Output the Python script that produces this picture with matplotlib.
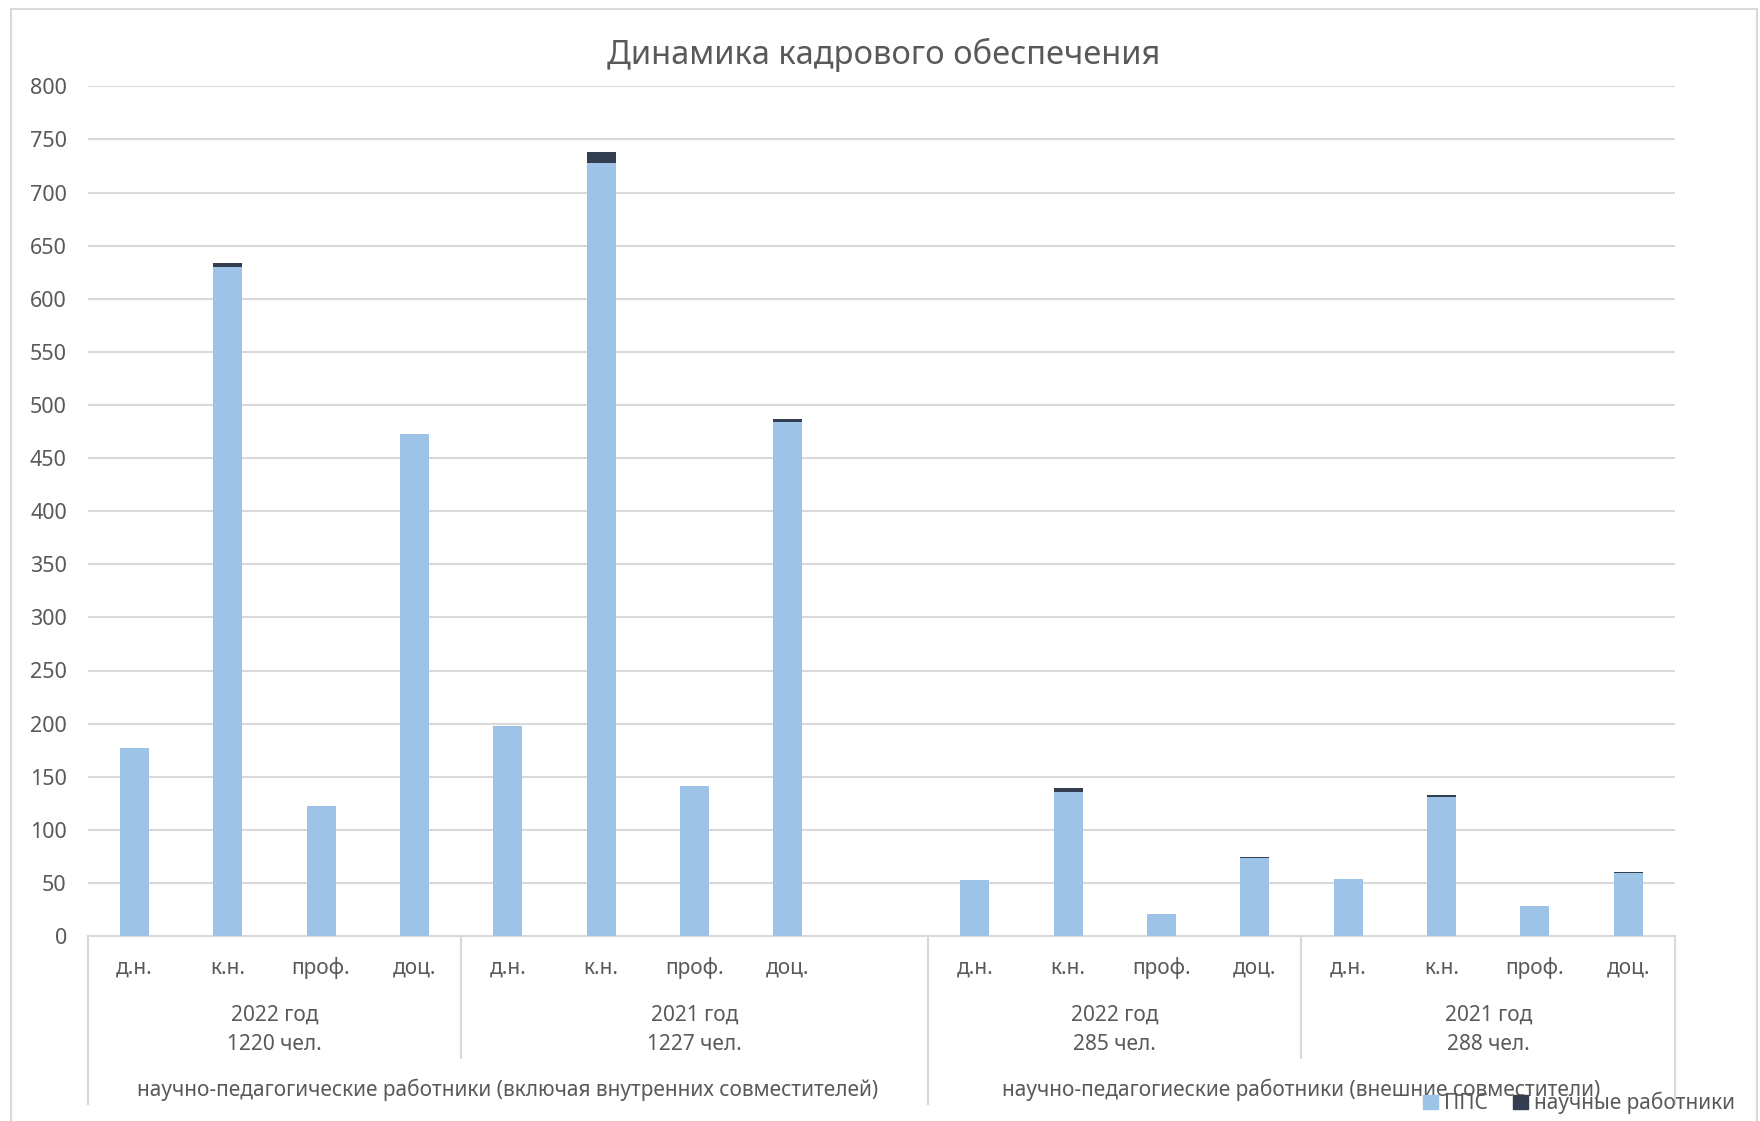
import matplotlib

matplotlib.use("Agg")
import matplotlib.pyplot as plt
from matplotlib.patches import Rectangle, Patch
from matplotlib.lines import Line2D
from matplotlib.transforms import blended_transform_factory

plt.rcParams["font.family"] = ["Noto Sans", "DejaVu Sans"]

TITLE = "Динамика кадрового обеспечения"
DEGREES = ["д.н.", "к.н.", "проф.", "доц."]
YEARS = ["2022 год\n1220 чел.", "2021 год\n1227 чел.", "2022 год\n285 чел.", "2021 год\n288 чел."]
OUTER = ["научно-педагогические работники (включая внутренних совместителей)",
         "научно-педагогиеские работники (внешние совместители)"]
SERIES = ["ППС", "научные работники"]

# per block: д.н., к.н., проф., доц.
pps = [177, 630, 122, 473,
       198, 728, 141, 484,
       53, 136, 21, 73,
       54, 131, 28, 59]
sci = [0, 4, 0, 0,
       0, 10, 0, 3,
       0, 3, 0, 1,
       0, 2, 0, 1]

LIGHT, DARK = "#9DC3E6", "#333F50"
TXT, GRID = "#595959", "#D9D9D9"
W, H = 1760, 1121

# slot positions: 4 + 4 + one empty slot + 4 + 4
pos = [0, 1, 2, 3, 4, 5, 6, 7, 9, 10, 11, 12, 13, 14, 15, 16]

fig = plt.figure(figsize=(W / 100, H / 100), dpi=100)
ax = fig.add_axes([87.6 / W, 1 - 936 / H, (1675 - 87.6) / W, (936 - 86.4) / H])

bw = 0.31
ax.bar(pos, pps, bw, color=LIGHT, zorder=3)
ax.bar(pos, sci, bw, bottom=pps, color=DARK, zorder=3)

ax.set_xlim(-0.5, 16.5)
ax.set_ylim(0, 800)
ax.set_yticks(range(0, 801, 50))
ax.tick_params(axis="y", length=0, labelsize=15.5, labelcolor=TXT, pad=15)
ax.set_xticks([])
ax.grid(axis="y", color=GRID, linewidth=1.5, zorder=0)
for s in ["top", "right", "left"]:
    ax.spines[s].set_visible(False)
ax.spines["bottom"].set_color(GRID)
ax.spines["bottom"].set_linewidth(1.5)

fy = lambda py: 1 - py / H
tr = blended_transform_factory(ax.transData, fig.transFigure)

for i, p in enumerate(pos):
    ax.text(p, fy(968), DEGREES[i % 4], transform=tr, ha="center", va="center",
            fontsize=15, color=TXT)

year_centers = [1.5, 6.0, 10.5, 14.5]
for xc, lab in zip(year_centers, YEARS):
    ax.text(xc, fy(1030), lab, transform=tr, ha="center", va="center",
            fontsize=15, color=TXT, linespacing=1.55)

ax.text(4.0, fy(1090), OUTER[0], transform=tr, ha="center", va="center",
        fontsize=15, color=TXT)
ax.text(12.5, fy(1090), OUTER[1], transform=tr, ha="center", va="center",
        fontsize=15, color=TXT)

for xs, yend in [(-0.5, 1104), (3.5, 1058), (8.5, 1104), (12.5, 1058), (16.5, 1104)]:
    fig.add_artist(Line2D([xs, xs], [fy(936), fy(yend)], transform=tr,
                          color=GRID, linewidth=1.5))

fig.text(884 / W, fy(55), TITLE, ha="center", va="center", fontsize=23.5, color=TXT)

handles = [Patch(color=LIGHT), Patch(color=DARK)]
fig.legend(handles, SERIES, loc="center", bbox_to_anchor=(1579 / W, fy(1103)),
           ncol=2, frameon=False, fontsize=15, labelcolor=TXT,
           handlelength=0.7, handleheight=0.7, handletextpad=0.3, columnspacing=1.2)

fig.add_artist(Rectangle((11 / W, -0.05), (1757 - 11) / W, fy(9) + 0.05,
                         transform=fig.transFigure, fill=False,
                         edgecolor="#D9D9D9", linewidth=1.5))

fig.savefig("out.png", dpi=100)
